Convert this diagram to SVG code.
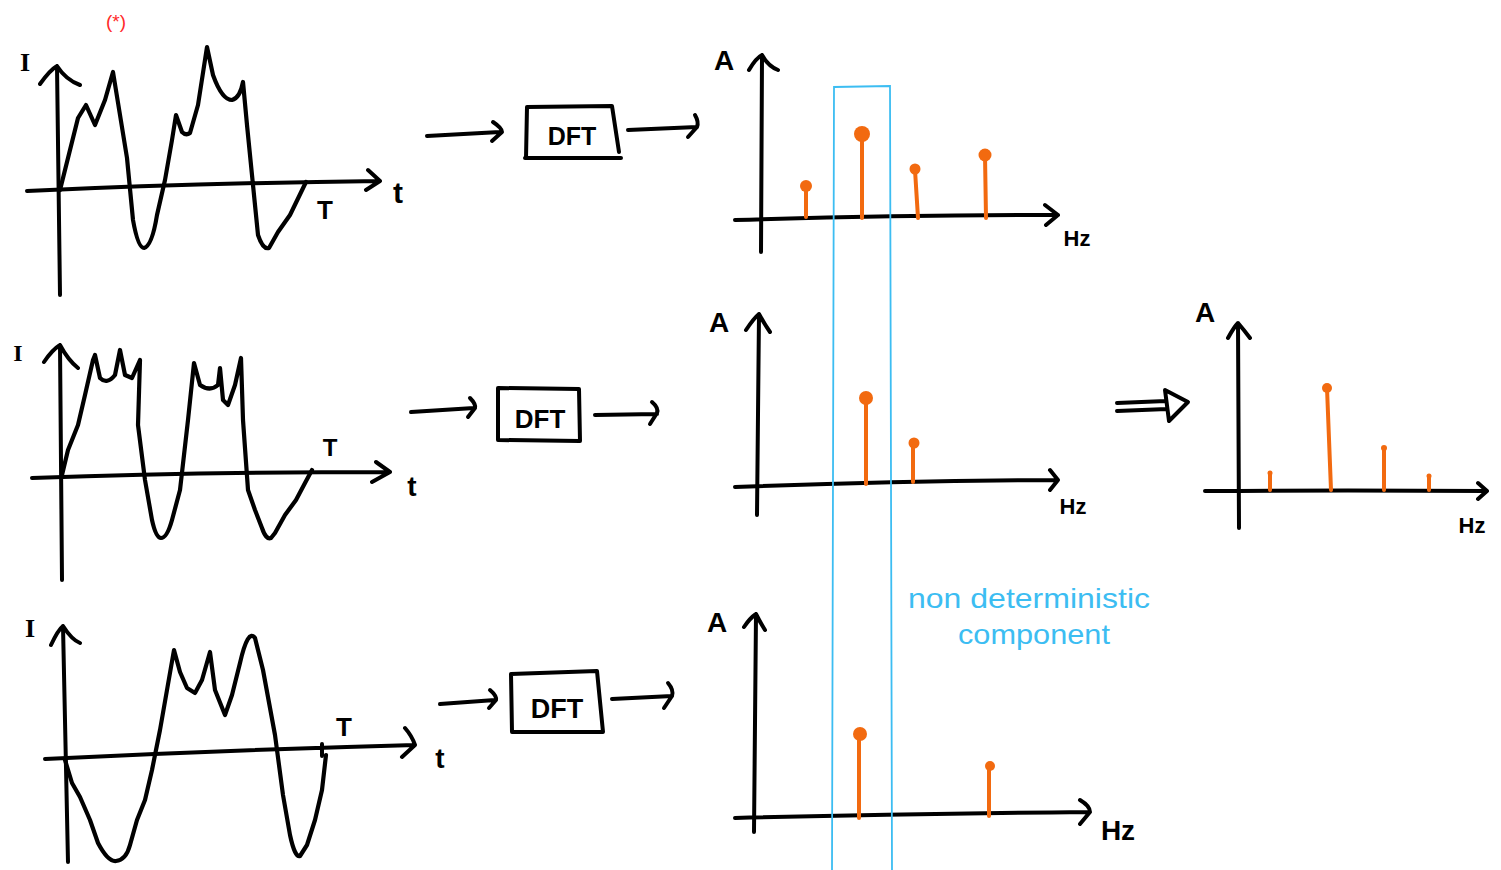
<svg xmlns="http://www.w3.org/2000/svg" width="1501" height="870" viewBox="0 0 1501 870">
<style>
.ink{fill:none;stroke:#000;stroke-width:4;stroke-linecap:round;stroke-linejoin:round}
.wave{fill:none;stroke:#000;stroke-width:4.2;stroke-linecap:round;stroke-linejoin:round}
.stem{fill:none;stroke:#f26a10;stroke-width:4;stroke-linecap:round}
.dot{fill:#f26a10}
.band{fill:none;stroke:#3cbdf2;stroke-width:1.8}
.lbl{font-family:"Liberation Sans",Arial,sans-serif;font-weight:bold;fill:#000}
.ilbl{font-family:"Liberation Serif","Times New Roman",serif;font-weight:bold;fill:#000}
.note{font-family:"Liberation Sans",Arial,sans-serif;fill:#3cbdf2;font-size:28px}
</style>
<rect width="1501" height="870" fill="#fff"/>

<text x="116" y="28" font-family="Liberation Sans,Arial,sans-serif" font-size="19" fill="#ff2a2a" text-anchor="middle">(*)</text>

<g id="signal1">
  <path class="ink" d="M60,295 L57,66 M40,84 Q50,70 57,66 Q66,80 80,85"/>
  <path class="ink" d="M27,191 Q200,183 380,181 M368,170 L380,181 L366,190"/>
  <path class="wave" d="M60,190 L70,150 L78,118 L86,105 L95,125 L105,100 L113,72 L120,115 L127,158 L133,220 Q138,248 144,248 Q152,246 157,215 L165,180 L172,140 L176,115 L182,132 Q186,136 190,133 L198,105 L207,47 L213,75 Q222,100 232,100 Q240,98 243,82 L247,125 L252,175 L258,235 Q263,250 269,248 L278,232 L290,215 L306,182"/>
  <text class="ilbl" x="25" y="71" font-size="26" text-anchor="middle">I</text>
  <text class="lbl" x="398" y="203" font-size="30" text-anchor="middle">t</text>
  <text class="lbl" x="325" y="219" font-size="26" text-anchor="middle">T</text>
</g>

<g id="signal2">
  <path class="ink" d="M62,580 L60,345 M44,362 Q52,350 60,345 Q68,360 78,368"/>
  <path class="ink" d="M32,478 Q200,472 390,472 M376,462 L390,472 L372,482"/>
  <path class="wave" d="M62,475 L68,450 L78,425 L85,395 L93,360 L95,355 L100,378 Q107,385 115,375 L120,350 L125,375 L132,378 L140,360 L138,425 L145,480 L152,520 Q156,538 161,538 Q167,538 172,520 L180,490 L188,420 L194,363 L200,385 Q210,392 218,385 L220,368 L223,400 L228,405 L235,385 L241,358 L243,420 L248,490 L255,510 L262,528 Q266,540 271,538 L275,533 L285,515 L296,500 L305,483 L312,470"/>
  <text class="ilbl" x="18" y="361" font-size="24" text-anchor="middle">I</text>
  <text class="lbl" x="330" y="456" font-size="24" text-anchor="middle">T</text>
  <text class="lbl" x="412" y="496" font-size="28" text-anchor="middle">t</text>
</g>

<g id="signal3">
  <path class="ink" d="M68,862 L63,626 M51,645 Q58,630 63,626 Q72,640 80,643"/>
  <path class="ink" d="M45,759 Q230,750 415,745 M405,728 Q412,736 415,745 L402,757 M322,744 L322,756"/>
  <path class="wave" d="M65,760 L72,783 L80,797 L90,820 L98,843 Q108,862 116,861 Q126,860 130,845 L137,820 L145,800 L152,770 L160,730 L167,690 L174,650 L180,672 L187,688 L195,693 L202,680 L210,652 L215,690 L225,715 L232,695 L240,663 Q248,628 255,638 L263,670 L275,735 L283,795 L290,835 Q295,858 300,856 L307,845 L315,820 L322,790 L326,755"/>
  <text class="ilbl" x="30" y="637" font-size="26" text-anchor="middle">I</text>
  <text class="lbl" x="344" y="736" font-size="26" text-anchor="middle">T</text>
  <text class="lbl" x="440" y="768" font-size="28" text-anchor="middle">t</text>
</g>

<g id="dft1">
  <path class="ink" d="M527,107 L612,106 L619,152 M525,158 L621,158 M527,107 L526,158"/>
  <text class="lbl" x="572" y="145" font-size="25" text-anchor="middle">DFT</text>
</g>
<g id="dft2">
  <path class="ink" d="M498,388 L579,389 L580,441 L498,440 Z"/>
  <text class="lbl" x="540" y="428" font-size="26" text-anchor="middle">DFT</text>
</g>
<g id="dft3">
  <path class="ink" d="M511,674 L597,671 L603,732 L512,732 Z"/>
  <text class="lbl" x="557" y="718" font-size="27" text-anchor="middle">DFT</text>
</g>

<g id="connectors">
  <path class="ink" d="M427,136 L500,132 M493,122 Q502,128 502,132 L492,141"/>
  <path class="ink" d="M628,130 L697,127 M695,115 Q699,122 697,127 L688,137"/>
  <path class="ink" d="M411,412 L474,408 M470,398 Q476,404 475,408 L468,417"/>
  <path class="ink" d="M595,415 L657,414 M652,402 Q659,408 657,413 L650,424"/>
  <path class="ink" d="M440,704 L495,700 M490,690 Q497,696 496,700 L489,708"/>
  <path class="ink" d="M612,699 L672,696 M668,683 Q674,690 672,696 L664,708"/>
  <path class="ink" d="M1117,403 L1166,401 M1117,411 L1167,409 M1165,390 L1188,402 L1169,421 Z"/>
</g>

<g id="spectrum1">
  <path class="ink" d="M761,252 L762,55 M749,70 Q756,58 762,55 Q768,66 778,70"/>
  <path class="ink" d="M735,220 Q900,215 1058,215 M1045,205 L1058,215 L1046,225"/>
  <path class="stem" d="M806,217 L806,186 M862,218 L862,134 M918,218 L915,170 M986,218 L985,155"/>
  <circle class="dot" cx="806" cy="186" r="6"/>
  <circle class="dot" cx="862" cy="134" r="8"/>
  <circle class="dot" cx="915" cy="169" r="5.5"/>
  <circle class="dot" cx="985" cy="155" r="6.5"/>
  <text class="lbl" x="724" y="70" font-size="28" text-anchor="middle">A</text>
  <text class="lbl" x="1077" y="246" font-size="22" text-anchor="middle">Hz</text>
</g>

<g id="spectrum2">
  <path class="ink" d="M757,515 L759,314 M746,330 Q754,318 759,314 Q765,325 770,332"/>
  <path class="ink" d="M735,487 Q900,481 1058,480 M1050,470 L1058,480 L1050,490"/>
  <path class="stem" d="M866,484 L866,398 M913,482 L913,444"/>
  <circle class="dot" cx="866" cy="398" r="7"/>
  <circle class="dot" cx="914" cy="443" r="5.5"/>
  <text class="lbl" x="719" y="332" font-size="28" text-anchor="middle">A</text>
  <text class="lbl" x="1073" y="514" font-size="22" text-anchor="middle">Hz</text>
</g>

<g id="spectrum3">
  <path class="ink" d="M754,832 L756,614 M744,627 Q750,618 756,614 Q760,622 765,630"/>
  <path class="ink" d="M735,818 Q900,814 1088,812 M1080,800 Q1090,806 1090,812 L1080,824"/>
  <path class="stem" d="M859,818 L859,734 M989,816 L989,766"/>
  <circle class="dot" cx="860" cy="734" r="7"/>
  <circle class="dot" cx="990" cy="766" r="5"/>
  <text class="lbl" x="717" y="632" font-size="28" text-anchor="middle">A</text>
  <text class="lbl" x="1118" y="840" font-size="28" text-anchor="middle">Hz</text>
</g>

<g id="spectrum-sum">
  <path class="ink" d="M1239,528 L1238,323 M1228,338 Q1234,327 1238,323 Q1244,330 1250,338"/>
  <path class="ink" d="M1205,491 Q1350,490 1487,491 M1478,483 L1487,491 L1478,499"/>
  <path class="stem" d="M1270,490 L1270,473 M1331,490 L1327,388 M1384,490 L1384,448 M1429,490 L1429,476"/>
  <circle class="dot" cx="1270" cy="473" r="2.5"/>
  <circle class="dot" cx="1327" cy="388" r="5"/>
  <circle class="dot" cx="1384" cy="448" r="3"/>
  <circle class="dot" cx="1429" cy="476" r="2.5"/>
  <text class="lbl" x="1205" y="322" font-size="28" text-anchor="middle">A</text>
  <text class="lbl" x="1472" y="533" font-size="22" text-anchor="middle">Hz</text>
</g>

<g id="highlight">
  <path class="band" d="M832,870 L834,87 L890,86 L892,870"/>
</g>

<g id="note">
  <text class="note" x="908" y="608" textLength="242" lengthAdjust="spacingAndGlyphs">non deterministic</text>
  <text class="note" x="958" y="644" textLength="152" lengthAdjust="spacingAndGlyphs">component</text>
</g>
</svg>
